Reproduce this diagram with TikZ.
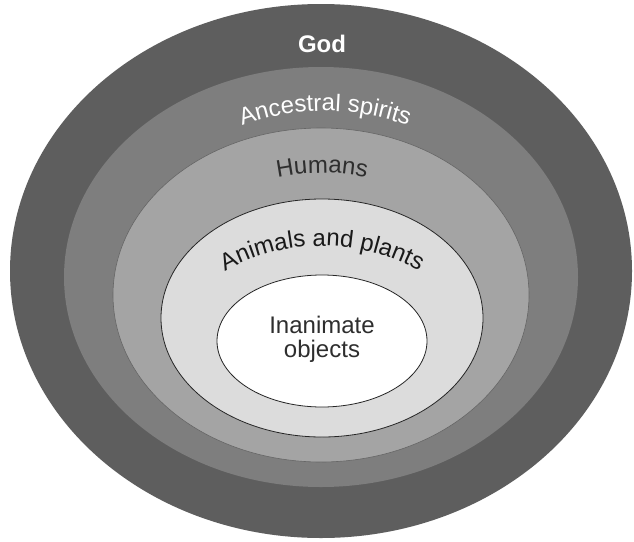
\documentclass[tikz,border=0pt]{standalone}
\usepackage{fontspec}
\setmainfont{Liberation Sans}
\usetikzlibrary{decorations.text}
\definecolor{cgod}{HTML}{5E5E5E}
\definecolor{canc}{HTML}{7E7E7E}
\definecolor{chum}{HTML}{A4A4A4}
\definecolor{cani}{HTML}{DCDCDC}
\definecolor{ctxt}{HTML}{2E2E2E}
\tikzset{
  ring/.style={draw=none},
  ringline/.style={draw=black!85, line width=0.8pt},
  bigtext/.style={font=\fontsize{24}{26}\selectfont},
  curvetext/.style={decorate, decoration={text along path, text align=center, text={#1}}}
}
\begin{document}
\begin{tikzpicture}[x=1pt,y=-1pt]
\useasboundingbox (0,0) rectangle (634,541);
\fill[white] (0,0) rectangle (634,541);
% rings
\coordinate (cgodc) at (321,271);
\coordinate (cancc) at (321,277);
\coordinate (chumc) at (321,295);
\coordinate (canic) at (322,318);
\coordinate (cinac) at (322,341);
\fill[cgod] (cgodc) ellipse [x radius=311, y radius=267];
\fill[canc] (cancc) ellipse [x radius=257, y radius=210];
\filldraw[fill=chum, draw=black!60, line width=0.6pt] (chumc) ellipse [x radius=208, y radius=167];
\filldraw[fill=cani, ringline] (canic) ellipse [x radius=161, y radius=119];
\filldraw[fill=white, ringline] (cinac) ellipse [x radius=105, y radius=66];
% labels
\node[bigtext, font=\bfseries\fontsize{24}{26}\selectfont, text=white] (god) at (322,44) {God};
\coordinate (ancArc) at (325,350);
\path[curvetext={|\fontsize{24}{26}\selectfont\color{white}|Ancestral spirits}]
  ([shift={(-115:239)}]ancArc) arc[start angle=-115, end angle=-65, radius=239];
\coordinate (humArc) at (322,393);
\path[curvetext={|\fontsize{24}{26}\selectfont\color{ctxt}|Humans}]
  ([shift={(-110:220)}]humArc) arc[start angle=-110, end angle=-70, radius=220];
\coordinate (aniArc) at (322,445);
\path[curvetext={|\fontsize{24}{26}\selectfont\color{black!90}|Animals and plants}]
  ([shift={(-130:199)}]aniArc) arc[start angle=-130, end angle=-50, radius=199];
\node[bigtext, text=ctxt, align=center] (inan) at (322,339) {Inanimate\\[-2pt]objects};
\end{tikzpicture}
\end{document}
